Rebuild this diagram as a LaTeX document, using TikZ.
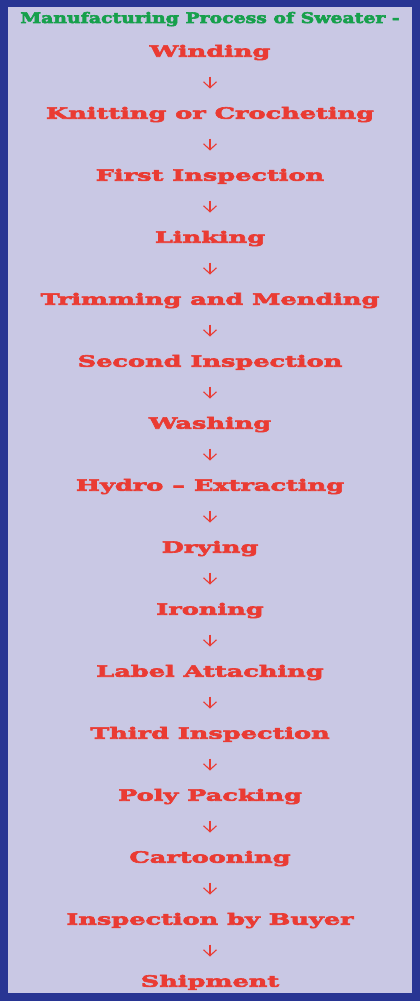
\documentclass[tikz,border=0pt]{standalone}
\usepackage{fontspec}
\setmainfont{DejaVu Serif}[FakeStretch=1.65, FakeBold=4]
\newfontfamily\titlefont{DejaVu Serif}[FakeStretch=1.3, FakeBold=4]
\usetikzlibrary{arrows.meta}
\definecolor{frame}{HTML}{283593}
\definecolor{bg}{HTML}{C9C8E4}
\definecolor{ttl}{HTML}{16A04C}
\definecolor{itm}{HTML}{EA3B33}
\tikzset{
  itemtxt/.style={anchor=base, inner sep=0pt, text height=11pt, text depth=3pt, text=itm, font=\fontsize{15.5}{18}\selectfont\bfseries},
  titletxt/.style={anchor=base, inner sep=0pt, text height=11pt, text depth=3pt, text=ttl, font=\titlefont\fontsize{14.5}{18}\selectfont\bfseries},
  arr/.style={draw=itm, line width=1.1pt, -{Straight Barb[length=6pt,width=13pt]}, shorten <=16.6pt, shorten >=19pt}
}
\begin{document}
\begin{tikzpicture}[x=1pt,y=-1pt]
\useasboundingbox (0,0) rectangle (420,1001);
\fill[frame] (0,0) rectangle (420,1001);
\fill[bg] (8,7) rectangle (412,993);
\node[titletxt] (title) at (210,23) {Manufacturing Process of Sweater -};
\node[itemtxt] (s1) at (210,56.7) {Winding};
\node[itemtxt] (s2) at (210,118.7) {Knitting or Crocheting};
\node[itemtxt] (s3) at (210,180.7) {First Inspection};
\node[itemtxt] (s4) at (210,242.7) {Linking};
\node[itemtxt] (s5) at (210,304.7) {Trimming and Mending};
\node[itemtxt] (s6) at (210,366.7) {Second Inspection};
\node[itemtxt] (s7) at (210,428.7) {Washing};
\node[itemtxt] (s8) at (210,490.7) {Hydro -- Extracting};
\node[itemtxt] (s9) at (210,552.7) {Drying};
\node[itemtxt] (s10) at (210,614.7) {Ironing};
\node[itemtxt] (s11) at (210,676.7) {Label Attaching};
\node[itemtxt] (s12) at (210,738.7) {Third Inspection};
\node[itemtxt] (s13) at (210,800.7) {Poly Packing};
\node[itemtxt] (s14) at (210,862.7) {Cartooning};
\node[itemtxt] (s15) at (210,924.7) {Inspection by Buyer};
\node[itemtxt] (s16) at (210,986.7) {Shipment};
\foreach \a/\b in {s1/s2,s2/s3,s3/s4,s4/s5,s5/s6,s6/s7,s7/s8,s8/s9,s9/s10,s10/s11,s11/s12,s12/s13,s13/s14,s14/s15,s15/s16}
  \draw[arr] (\a.south) -- (\b.north);
\end{tikzpicture}
\end{document}
